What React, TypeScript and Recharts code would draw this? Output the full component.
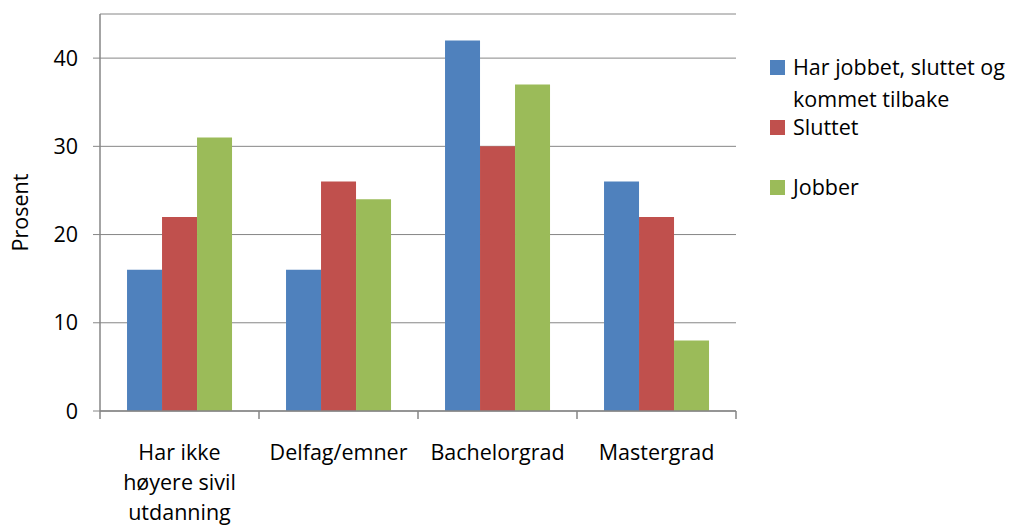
import React from 'react';
import { BarChart, Bar, XAxis, YAxis, CartesianGrid } from 'recharts';

const categories = [
  'Har ikke\nhøyere sivil\nutdanning',
  'Delfag/emner',
  'Bachelorgrad',
  'Mastergrad'
];

const returnedValues = [16, 16, 42, 26];
const quitValues = [22, 26, 30, 22];
const workingValues = [31, 24, 37, 8];

const yTicks = [0, 10, 20, 30, 40];

const series = [
  { key: 'returned', name: 'Har jobbet, sluttet og kommet tilbake', color: '#4F81BD', values: returnedValues },
  { key: 'quit', name: 'Sluttet', color: '#C0504D', values: quitValues },
  { key: 'working', name: 'Jobber', color: '#9BBB59', values: workingValues }
];

const data = categories.map((name, i) => {
  const row: Record<string, any> = { name };
  series.forEach((s) => {
    row[s.key] = s.values[i];
  });
  return row;
});

const FONT = '"Open Sans", sans-serif';
const FONT_SIZE = 21.5;
const AXIS_COLOR = '#868686';

// category label under the axis, plus tick marks on the band edges
function CategoryTick(props: any) {
  const { x, y, width, payload, index, visibleTicksCount } = props;
  const band = width / visibleTicksCount;
  const lines = String(payload.value).split('\n');
  const left = x - band / 2;
  const right = x + band / 2;
  return (
    <g>
      <line x1={left} x2={left} y1={y - 8} y2={y} stroke={AXIS_COLOR} strokeWidth={1.5} />
      {index === visibleTicksCount - 1 && (
        <line x1={right} x2={right} y1={y - 8} y2={y} stroke={AXIS_COLOR} strokeWidth={1.5} />
      )}
      <text x={x} y={y} textAnchor="middle" fill="#000" fontSize={FONT_SIZE} fontFamily={FONT}>
        {lines.map((line, i) => (
          <tspan key={i} x={x} y={y + 41 + i * 30}>
            {line}
          </tspan>
        ))}
      </text>
    </g>
  );
}

function LegendBox() {
  return (
    <div style={{ position: 'absolute', left: 770, top: 51, fontFamily: FONT, fontSize: FONT_SIZE, color: '#000' }}>
      {series.map((s) => (
        <div key={s.key} style={{ position: 'relative', height: 60 }}>
          <div style={{ position: 'absolute', left: 0, top: 9, width: 15, height: 15, background: s.color }} />
          <div style={{ position: 'absolute', left: 23, top: 0, width: 236, lineHeight: '32px' }}>{s.name}</div>
        </div>
      ))}
    </div>
  );
}

export default function App() {
  return (
    <div style={{ position: 'absolute', left: 0, top: 0, width: 1013, height: 526, background: '#fff' }}>
      <BarChart
        width={1013}
        height={526}
        data={data}
        margin={{ top: 14, right: 277, left: 0, bottom: 0 }}
        barGap={0}
        barCategoryGap="17%"
      >
        <CartesianGrid vertical={false} stroke={AXIS_COLOR} strokeWidth={1} />
        <YAxis
          width={100}
          domain={[0, 45]}
          ticks={yTicks}
          interval={0}
          tickSize={7}
          tickMargin={15}
          axisLine={{ stroke: AXIS_COLOR, strokeWidth: 1.5 }}
          tickLine={{ stroke: AXIS_COLOR, strokeWidth: 1 }}
          tick={{ fill: '#000', fontSize: FONT_SIZE, fontFamily: FONT }}
          label={{
            value: 'Prosent',
            angle: -90,
            position: 'insideLeft',
            offset: 20,
            style: { textAnchor: 'middle', fill: '#000', fontSize: FONT_SIZE, fontFamily: FONT }
          }}
        />
        <XAxis
          dataKey="name"
          height={115}
          interval={0}
          tickSize={8}
          tickMargin={0}
          tickLine={false}
          axisLine={{ stroke: AXIS_COLOR, strokeWidth: 1.5 }}
          tick={<CategoryTick />}
        />
        {series.map((s) => (
          <Bar key={s.key} dataKey={s.key} name={s.name} fill={s.color} isAnimationActive={false} />
        ))}
      </BarChart>
      <LegendBox />
    </div>
  );
}
